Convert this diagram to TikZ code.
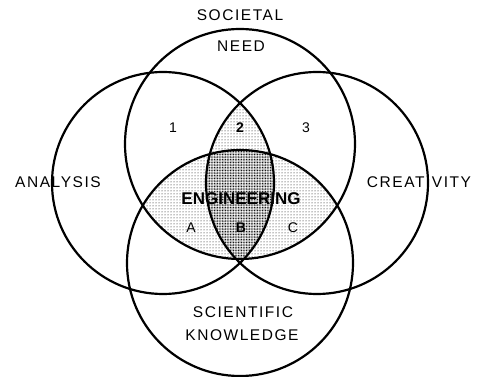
\documentclass[tikz,border=0pt]{standalone}
\usepackage{fontspec}
\setmainfont{Liberation Sans}
\newfontfamily\spaced{Liberation Sans}[LetterSpace=10]
\usetikzlibrary{patterns.meta}
\begin{document}
\begin{tikzpicture}[x=1pt,y=-1pt,
  lab/.style={font=\spaced\fontsize{15.5}{17}\selectfont, inner sep=0pt},
  num/.style={font=\fontsize{14}{15}\selectfont, inner sep=0pt},
  bnum/.style={font=\bfseries\fontsize{14}{15}\selectfont, inner sep=0pt},
  circ/.style={line width=2.2pt},
  light/.style={pattern={Dots[distance=3pt,radius=0.5pt]}},
  dark/.style={pattern={Dots[distance=1.6pt,radius=0.55pt]}}]
\useasboundingbox (0,0) rectangle (477,377);
\def\Tc{(240,144) circle[radius=115]}
\def\Bc{(240,263) circle[radius=113]}
\def\Lc{(163,183) circle[radius=111]}
\def\Rc{(317,183) circle[radius=111]}
% light: top and bottom lens
\begin{scope}
  \clip \Tc;
  \fill[light] \Bc;
\end{scope}
% light: region 2
\begin{scope}
  \clip \Lc;
  \clip \Rc;
  \fill[light] \Tc;
\end{scope}
% dark: all four
\begin{scope}
  \clip \Lc;
  \clip \Rc;
  \clip \Bc;
  \fill[white] \Tc;
  \fill[dark] \Tc;
\end{scope}
\draw[circ] \Tc;
\draw[circ] \Bc;
\draw[circ] \Lc;
\draw[circ] \Rc;
\node[lab] (soc) at (240,15) {SOCIETAL};
\node[lab] (need) at (241,46) {NEED};
\node[lab] (ana) at (58,182) {ANALYSIS};
\node[lab] (cre) at (419,182) {CREATIVITY};
\node[lab] (sci) at (243,312) {SCIENTIFIC};
\node[lab] (kno) at (242,335) {KNOWLEDGE};
\node[num] (n1) at (173,128) {1};
\node[bnum] (n2) at (240,128) {2};
\node[num] (n3) at (306,128) {3};
\node[inner sep=0pt,font=\bfseries\fontsize{17}{18}\selectfont] (eng) at (241,199) {ENGINEERING};
\node[num] (na) at (191,228) {A};
\node[bnum] (nb) at (241,228) {B};
\node[num] (nc) at (293,228) {C};
\end{tikzpicture}
\end{document}
